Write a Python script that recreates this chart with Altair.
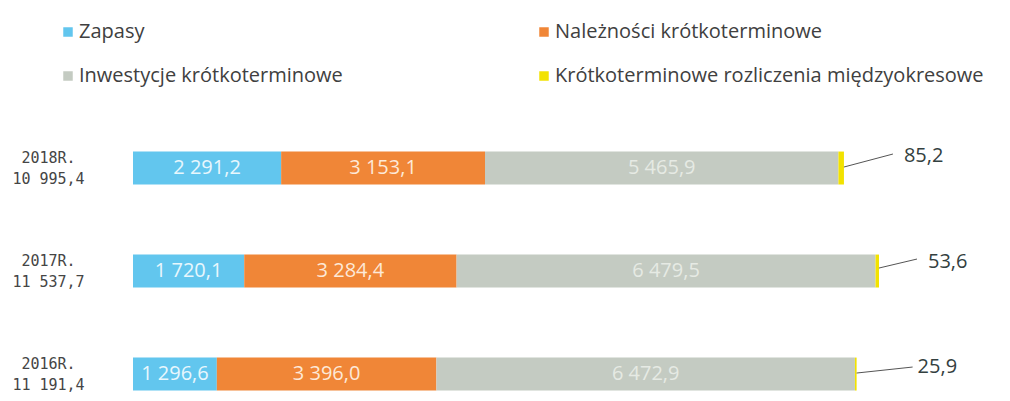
import altair as alt
import pandas as pd

# ---- data -------------------------------------------------------------
years = ["2018R.", "2017R.", "2016R."]
totals = ["10 995,4", "11 537,7", "11 191,4"]
series = [
    "Zapasy",
    "Należności krótkoterminowe",
    "Inwestycje krótkoterminowe",
    "Krótkoterminowe rozliczenia międzyokresowe",
]
zapasy = [2291.2, 1720.1, 1296.6]
naleznosci = [3153.1, 3284.4, 3396.0]
inwestycje = [5465.9, 6479.5, 6472.9]
rozliczenia = [85.2, 53.6, 25.9]

# ---- style ------------------------------------------------------------
colors = ["#62C6EE", "#F08637", "#C4CBC2", "#F2E200"]
text_colors = ["#E8F7FD", "#FDE9D8", "#E6EAE4", "#333333"]
# legend is filled column by column: show it in reading order row by row
legend_order = [0, 2, 1, 3]
# leader line / outside-label offsets (px) per year: (line start dy, line end dx, line end dy, label dx, label dy)
leader = {
    "2018R.": (-1, 49, -14, 60, -12),
    "2017R.": (-3, 38, -12, 49, -9),
    "2016R.": (-1, 56, -7, 61, -7),
}


def fmt(v):
    s = f"{v:,.1f}"
    return s.replace(",", " ").replace(".", ",")


rows = []
for i, (y, t) in enumerate(zip(years, totals)):
    for k, vals in enumerate([zapasy, naleznosci, inwestycje, rozliczenia]):
        rows.append(
            {
                "year": y,
                "ylab": f"{y}|{t}",
                "series": series[k],
                "order": k,
                "value": vals[i],
                "label": fmt(vals[i]),
                "tcolor": text_colors[k],
            }
        )
df = pd.DataFrame(rows)
ylabs = [f"{y}|{t}" for y, t in zip(years, totals)]

x_scale = alt.Scale(domain=[0, 13440], nice=False, zero=False)
y_scale = alt.Scale(domain=ylabs, paddingInner=0.68, paddingOuter=0.7476, align=0.932)

base = alt.Chart(df).transform_stack(
    stack="value",
    groupby=["year"],
    as_=["x0", "x1"],
    sort=[alt.SortField("order", order="ascending")],
)

y_enc = alt.Y(
    "ylab:N",
    scale=y_scale,
    axis=alt.Axis(
        title=None,
        domain=False,
        ticks=False,
        labelExpr="split(datum.value, '|')",
        labelFont="DejaVu Sans Mono",
        labelFontSize=15,
        labelColor="#454545",
        labelAlign="center",
        labelBaseline="middle",
        labelLineHeight=21,
        labelOffset=-10,
        labelPadding=85,
    ),
)

bars = base.mark_bar().encode(
    x=alt.X("x0:Q", scale=x_scale, axis=None),
    x2="x1:Q",
    y=y_enc,
    color=alt.Color(
        "series:N",
        scale=alt.Scale(
            domain=[series[k] for k in legend_order],
            range=[colors[k] for k in legend_order],
        ),
        legend=alt.Legend(
            title=None,
            orient="none",
            legendX=-75,
            legendY=14,
            columns=2,
            symbolType="square",
            symbolSize=90,
            symbolStrokeWidth=0,
            labelFont="Open Sans",
            labelFontSize=20,
            labelColor="#404040",
            labelLimit=0,
            labelOffset=1,
            columnPadding=191,
            rowPadding=24,
        ),
    ),
)

inner = (
    base.transform_filter("datum.order < 3")
    .transform_calculate(mid="(datum.x0 + datum.x1) / 2")
    .mark_text(font="Open Sans", fontSize=20, baseline="middle")
    .encode(
        x=alt.X("mid:Q", scale=x_scale),
        y=alt.Y("ylab:N", scale=y_scale),
        text="label:N",
        color=alt.Color("tcolor:N", scale=None),
    )
)

layers = [bars, inner]
for y, (sdy, ldx, ldy, tdx, tdy) in leader.items():
    sub = base.transform_filter(f"datum.order == 3 && datum.year == '{y}'")
    line = sub.mark_rule(
        color="#555555", strokeWidth=1, yOffset=sdy, x2Offset=ldx, y2Offset=ldy
    ).encode(
        x=alt.X("x1:Q", scale=x_scale),
        x2="x1:Q",
        y=alt.Y("ylab:N", scale=y_scale),
        y2="ylab:N",
    )
    lab = sub.mark_text(
        font="Open Sans",
        fontSize=20,
        align="left",
        baseline="middle",
        color="#334040",
        dx=tdx,
        dy=tdy,
    ).encode(
        x=alt.X("x1:Q", scale=x_scale),
        y=alt.Y("ylab:N", scale=y_scale),
        text="label:N",
    )
    layers += [line, lab]

chart = (
    alt.layer(*layers)
    .properties(
        width=869,
        height=393,
        padding={"left": 125, "top": 0, "right": 0, "bottom": 0},
        autosize=alt.AutoSizeParams(type="none"),
        background="white",
    )
    .configure_view(stroke=None)
)

chart.save("out.html", embed_options={"renderer": "svg", "actions": False})
